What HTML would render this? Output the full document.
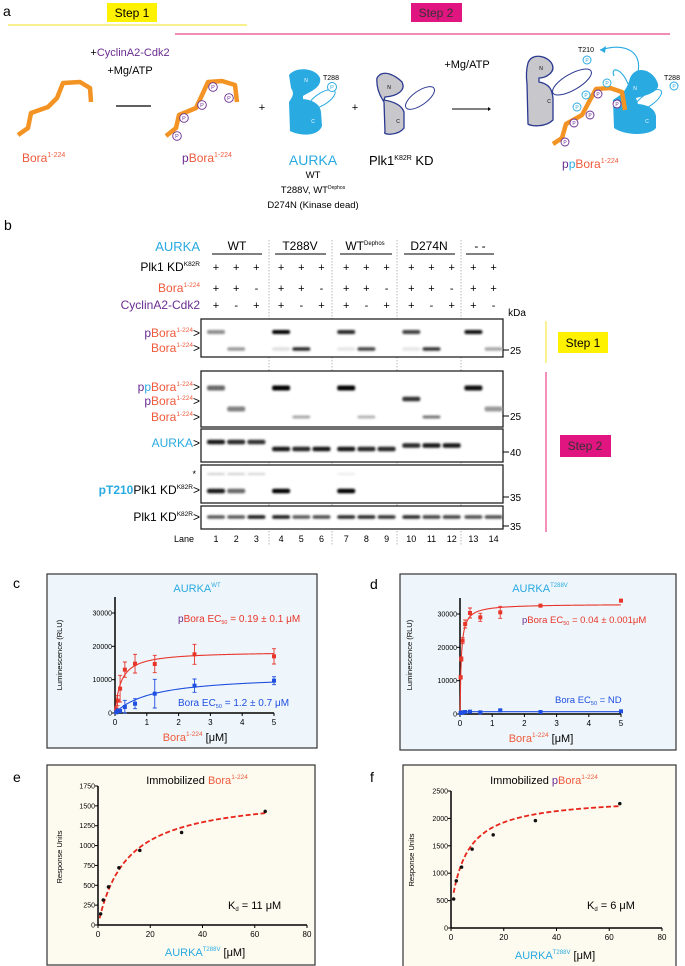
<!DOCTYPE html>
<html><head><meta charset="utf-8"><style>
html,body{margin:0;padding:0;background:#fff;}
svg{display:block;font-family:"Liberation Sans",Arial,sans-serif;}
</style></head><body>
<svg id="fig" width="685" height="966" viewBox="0 0 685 966" xmlns="http://www.w3.org/2000/svg">
<defs>
<filter id="blur" x="-50%" y="-200%" width="200%" height="500%"><feGaussianBlur stdDeviation="1.1"/></filter>
</defs>

<!-- Panel a -->
<g>
<text x="3" y="16" font-size="14">a</text>
<rect x="107" y="3" width="50" height="19" fill="#fff200"/>
<text x="132" y="17" font-size="12" text-anchor="middle">Step 1</text>
<line x1="8" y1="25" x2="247" y2="25" stroke="#f4e84a" stroke-width="1.2"/>
<rect x="411" y="3" width="51" height="19" fill="#e0157f"/>
<text x="436" y="17" font-size="12" text-anchor="middle" fill="#333">Step 2</text>
<line x1="175" y1="34" x2="670" y2="34" stroke="#e8478e" stroke-width="1.2"/>

<text x="130" y="56" font-size="11" text-anchor="middle"><tspan fill="#000">+</tspan><tspan fill="#6a2c91">CyclinA2-Cdk2</tspan></text>
<text x="130" y="74" font-size="11" text-anchor="middle">+Mg/ATP</text>
<line x1="116" y1="106" x2="151" y2="106" stroke="#000" stroke-width="1.2"/>

<path d="M18,135 L28,128 L31,113 L48,107 L57,98 L63,83 L80,82 L90,88 L91,102" fill="none" stroke="#f39324" stroke-width="4.5" stroke-linejoin="round"/>
<text x="22" y="162" font-size="12" fill="#ef5a3c">Bora<tspan font-size="7" dy="-5">1-224</tspan></text>

<path d="M166,136 L176,128 L179,115 L196,108 L203,93 L208,82 L222,81 L235,85 L237,102" fill="none" stroke="#f39324" stroke-width="4.5" stroke-linejoin="round"/>
<g fill="#fff" stroke="#6a2c91" stroke-width="0.9" font-size="5.5">
<circle cx="177" cy="136" r="4.3"/><circle cx="184" cy="118" r="4.3"/><circle cx="202" cy="105" r="4.3"/><circle cx="213" cy="87" r="4.3"/><circle cx="229" cy="98" r="4.3"/>
</g>
<g font-size="5.5" fill="#6a2c91" text-anchor="middle">
<text x="177" y="138">P</text><text x="184" y="120">P</text><text x="202" y="107">P</text><text x="213" y="89">P</text><text x="229" y="100">P</text>
</g>
<text x="182" y="162" font-size="12"><tspan fill="#6a2c91">p</tspan><tspan fill="#ef5a3c">Bora</tspan><tspan fill="#ef5a3c" font-size="7" dy="-5">1-224</tspan></text>

<text x="262" y="111" font-size="11" text-anchor="middle">+</text>
<g>
<ellipse cx="322" cy="99" rx="15" ry="6" transform="rotate(-32 322 99)" fill="#fff" stroke="#29aae1" stroke-width="1"/>
<path d="M289,75 C296,66 316,68 320,78 C322,88 309,92 303,96 L303,99 C313,100 320,104 321,112 L322,126 C318,137 300,136 290,131 L289,102 C292,97 295,94 291,88 Z" fill="#29aae1"/>
<circle cx="332" cy="87" r="4.5" fill="#fff" stroke="#29aae1" stroke-width="1"/>
<text x="332" y="89" font-size="5.5" text-anchor="middle" fill="#29aae1">P</text>
<text x="306" y="82" font-size="5" text-anchor="middle" fill="#fff">N</text>
<text x="313" y="123" font-size="5" text-anchor="middle" fill="#fff">C</text>
<text x="331" y="80" font-size="7" text-anchor="middle">T288</text>
</g>
<text x="313" y="165" font-size="14" fill="#29aae1" text-anchor="middle">AURKA</text>
<text x="313" y="178" font-size="9.5" text-anchor="middle">WT</text>
<text x="313" y="193" font-size="9.5" text-anchor="middle">T288V, WT<tspan font-size="5" dy="-4">Dephos</tspan></text>
<text x="313" y="208" font-size="9.5" text-anchor="middle">D274N (Kinase dead)</text>

<text x="355" y="111" font-size="11" text-anchor="middle">+</text>
<g>
<ellipse cx="420" cy="98" rx="17" ry="7" transform="rotate(-35 420 98)" fill="#fff" stroke="#2b3990" stroke-width="1"/>
<path d="M377,78 C383,68 396,76 402,82 C406,90 398,96 385,97 L384,100 C396,102 402,106 404,112 L404,128 C398,136 382,135 385,132 L384,102 C380,96 376,88 377,78 Z" fill="#c8c8cc" stroke="#2b3990" stroke-width="1.3"/>
<text x="389" y="89" font-size="5" text-anchor="middle">N</text>
<text x="398" y="123" font-size="5" text-anchor="middle">C</text>
</g>
<text x="369" y="165" font-size="13">Plk1<tspan font-size="7" dy="-5">K82R</tspan><tspan dy="5"> KD</tspan></text>
<text x="467" y="68" font-size="11" text-anchor="middle">+Mg/ATP</text>
<line x1="452" y1="109" x2="488" y2="109" stroke="#000" stroke-width="1"/>
<path d="M488,107 L491,109 L488,111 Z" fill="#000"/>

<g>
<ellipse cx="572" cy="82" rx="22" ry="8" transform="rotate(-30 572 82)" fill="#fff" stroke="#2b3990" stroke-width="1"/>
<path d="M528,63 C532,52 548,56 552,64 C556,72 546,78 539,78 L539,82 C550,84 552,90 553,98 L553,120 C545,128 530,126 528,124 L527,84 C526,76 526,70 528,63 Z" fill="#c8c8cc" stroke="#2b3990" stroke-width="1.3"/>
<text x="541" y="70" font-size="5" text-anchor="middle">N</text>
<text x="549" y="103" font-size="5" text-anchor="middle">C</text>
<ellipse cx="648" cy="100" rx="16" ry="6" transform="rotate(-35 648 100)" fill="#fff" stroke="#29aae1" stroke-width="1"/>
<path d="M630,78 C636,64 654,70 658,84 C660,92 645,96 636,98 L638,104 C650,105 655,110 656,116 L656,128 C650,136 625,136 614,128 L613,100 C618,96 626,94 630,78 Z" fill="#29aae1"/>
<text x="635" y="90" font-size="5" text-anchor="middle" fill="#fff">N</text>
<text x="647" y="123" font-size="5" text-anchor="middle" fill="#fff">C</text>
<circle cx="674" cy="86" r="4" fill="#fff" stroke="#29aae1" stroke-width="1"/>
<text x="674" y="88" font-size="5" text-anchor="middle" fill="#29aae1">P</text>
<text x="672" y="80" font-size="7" text-anchor="middle">T288</text>
<circle cx="587" cy="60" r="4" fill="#fff" stroke="#29aae1" stroke-width="1"/>
<text x="587" y="62" font-size="5" text-anchor="middle" fill="#29aae1">P</text>
<text x="586" y="52" font-size="7" text-anchor="middle">T210</text>
<path d="M638,72 C642,52 626,42 600,50" fill="none" stroke="#29aae1" stroke-width="1.1"/>
<path d="M600,50 L606,46 L605,53 Z" fill="#29aae1"/>
<path d="M628,84 C622,68 610,66 614,76" fill="none" stroke="#29aae1" stroke-width="1.1"/>
<path d="M553,144 L562,138 L566,124 L582,115 L590,100 L596,89 L610,88 L622,92 L625,110" fill="none" stroke="#f39324" stroke-width="4.5" stroke-linejoin="round"/>
<g fill="#fff" stroke-width="0.9"><circle cx="565" cy="142" r="4" stroke="#6a2c91"/><circle cx="574" cy="123" r="4" stroke="#6a2c91"/><circle cx="590" cy="115" r="4" stroke="#6a2c91"/><circle cx="598" cy="94" r="4" stroke="#6a2c91"/><circle cx="617" cy="104" r="4" stroke="#6a2c91"/>
<circle cx="577" cy="107" r="4" stroke="#29aae1"/><circle cx="586" cy="95" r="4" stroke="#29aae1"/><circle cx="607" cy="83" r="4" stroke="#29aae1"/></g>
<g font-size="5" text-anchor="middle"><text x="565" y="144" fill="#6a2c91">P</text><text x="574" y="125" fill="#6a2c91">P</text><text x="590" y="117" fill="#6a2c91">P</text><text x="598" y="96" fill="#6a2c91">P</text><text x="617" y="106" fill="#6a2c91">P</text><text x="577" y="109" fill="#29aae1">P</text><text x="586" y="97" fill="#29aae1">P</text><text x="607" y="85" fill="#29aae1">P</text></g>
</g>
<text x="562" y="168" font-size="12"><tspan fill="#6a2c91">p</tspan><tspan fill="#29aae1">p</tspan><tspan fill="#ef5a3c">Bora</tspan><tspan fill="#ef5a3c" font-size="7" dy="-5">1-224</tspan></text>
</g>

<!-- Panel b -->
<g id="panelB">
<text x="4" y="230" font-size="14">b</text>
<text x="200" y="251" font-size="13" fill="#29aae1" text-anchor="end">AURKA</text>
<text x="200" y="271" font-size="12" text-anchor="end">Plk1 KD<tspan font-size="6.5" dy="-5">K82R</tspan></text>
<text x="200" y="292" font-size="12" fill="#ef5a3c" text-anchor="end">Bora<tspan font-size="6.5" dy="-5">1-224</tspan></text>
<text x="200" y="309" font-size="12" fill="#6a2c91" text-anchor="end">CyclinA2-Cdk2</text>
<text x="517" y="316" font-size="10" text-anchor="middle">kDa</text>

<text x="237" y="250" font-size="12" text-anchor="middle">WT</text>
<line x1="212" y1="254" x2="262" y2="254" stroke="#000" stroke-width="1"/>
<text x="300" y="250" font-size="12" text-anchor="middle">T288V</text>
<line x1="275" y1="254" x2="326" y2="254" stroke="#000" stroke-width="1"/>
<text x="365" y="250" font-size="12" text-anchor="middle">WT<tspan font-size="6" dy="-5">Dephos</tspan></text>
<line x1="340" y1="254" x2="392" y2="254" stroke="#000" stroke-width="1"/>
<text x="429" y="250" font-size="12" text-anchor="middle">D274N</text>
<line x1="404" y1="254" x2="455" y2="254" stroke="#000" stroke-width="1"/>
<text x="480" y="250" font-size="12" text-anchor="middle">-    -</text>
<line x1="466" y1="254" x2="494" y2="254" stroke="#000" stroke-width="1"/>

<g stroke="#999" stroke-width="0.7" stroke-dasharray="1.5,1.5">
<line x1="269" y1="240" x2="269" y2="545"/><line x1="332" y1="240" x2="332" y2="545"/><line x1="397" y1="240" x2="397" y2="545"/><line x1="461" y1="240" x2="461" y2="545"/>
</g>

<rect x="201" y="319" width="302" height="38" fill="#fff" stroke="#222" stroke-width="1.3"/>
<rect x="201" y="371" width="302" height="56" fill="#fff" stroke="#222" stroke-width="1.3"/>
<rect x="201" y="429" width="302" height="33" fill="#fff" stroke="#222" stroke-width="1.3"/>
<rect x="201" y="465" width="302" height="38" fill="#fff" stroke="#222" stroke-width="1.3"/>
<rect x="201" y="506" width="302" height="23" fill="#fff" stroke="#222" stroke-width="1.3"/>
<g id="bands"></g>

<text x="200" y="337" font-size="12" text-anchor="end"><tspan fill="#6a2c91">p</tspan><tspan fill="#ef5a3c">Bora</tspan><tspan fill="#ef5a3c" font-size="6.5" dy="-5">1-224</tspan><tspan dy="5">&gt;</tspan></text>
<text x="200" y="352" font-size="12" text-anchor="end"><tspan fill="#ef5a3c">Bora</tspan><tspan fill="#ef5a3c" font-size="6.5" dy="-5">1-224</tspan><tspan dy="5">&gt;</tspan></text>
<text x="200" y="391" font-size="12" text-anchor="end"><tspan fill="#6a2c91">p</tspan><tspan fill="#29aae1">p</tspan><tspan fill="#ef5a3c">Bora</tspan><tspan fill="#ef5a3c" font-size="6.5" dy="-5">1-224</tspan><tspan dy="5">&gt;</tspan></text>
<text x="200" y="405" font-size="12" text-anchor="end"><tspan fill="#6a2c91">p</tspan><tspan fill="#ef5a3c">Bora</tspan><tspan fill="#ef5a3c" font-size="6.5" dy="-5">1-224</tspan><tspan dy="5">&gt;</tspan></text>
<text x="200" y="421" font-size="12" text-anchor="end"><tspan fill="#ef5a3c">Bora</tspan><tspan fill="#ef5a3c" font-size="6.5" dy="-5">1-224</tspan><tspan dy="5">&gt;</tspan></text>
<text x="200" y="447" font-size="12" text-anchor="end"><tspan fill="#29aae1">AURKA</tspan>&gt;</text>
<text x="196" y="477" font-size="9" text-anchor="end">*</text>
<text x="200" y="494" font-size="12" text-anchor="end"><tspan fill="#29aae1" font-weight="bold">pT210</tspan>Plk1 KD<tspan font-size="6.5" dy="-5">K82R</tspan><tspan dy="5">&gt;</tspan></text>
<text x="200" y="521" font-size="12" text-anchor="end">Plk1 KD<tspan font-size="6.5" dy="-5">K82R</tspan><tspan dy="5">&gt;</tspan></text>

<g font-size="10">
<line x1="503" y1="350" x2="509" y2="350" stroke="#000"/><text x="510" y="354">25</text>
<line x1="503" y1="416" x2="509" y2="416" stroke="#000"/><text x="510" y="420">25</text>
<line x1="503" y1="452" x2="509" y2="452" stroke="#000"/><text x="510" y="456">40</text>
<line x1="503" y1="497" x2="509" y2="497" stroke="#000"/><text x="510" y="501">35</text>
<line x1="503" y1="526" x2="509" y2="526" stroke="#000"/><text x="510" y="530">35</text>
</g>
<line x1="546" y1="321" x2="546" y2="363" stroke="#f4e84a" stroke-width="1.2"/>
<rect x="558" y="332" width="50" height="21" fill="#fff200"/>
<text x="583" y="347" font-size="12" text-anchor="middle">Step 1</text>
<line x1="546" y1="372" x2="546" y2="532" stroke="#e8478e" stroke-width="1.2"/>
<rect x="560" y="435" width="51" height="22" fill="#e0157f"/>
<text x="585" y="450" font-size="12" text-anchor="middle" fill="#333">Step 2</text>
<text x="194" y="542" font-size="9" text-anchor="end">Lane</text>
</g>

<g id="charts"></g>
</svg>

<script>
// ---------- Blot data ----------
const lanes = [1,2,3,4,5,6,7,8,9,10,11,12,13,14];
const plk1Row = ['+','+','+','+','+','+','+','+','+','+','+','+','+','+'];
const boraRow = ['+','+','-','+','+','-','+','+','-','+','+','-','+','+'];
const cyclinRow = ['+','-','+','+','-','+','+','-','+','+','-','+','+','-'];
const step1PBora = [0.45,0,0,1,0,0,0.85,0,0,0.75,0,0,0.95,0];
const step1Bora = [0,0.4,0,0.12,0.85,0,0.1,0.75,0,0.1,0.8,0,0,0.35];
const step2PPBora = [0.6,0,0,1,0,0,1,0,0,0,0,0,0.95,0];
const step2PBora = [0,0,0,0,0,0,0,0,0,0.8,0,0,0,0];
const step2Mid = [0,0.5,0,0,0,0,0,0,0,0,0,0,0,0.4];
const step2Bora = [0,0,0,0,0.35,0,0,0.3,0,0,0.55,0,0,0];
const aurkaBand = [0.9,0.85,0.8,0.9,0.85,0.9,0.9,0.85,0.85,0.85,0.9,0.9,0,0];
const aurkaPhos = [1,1,1,0,0,0,0,0,0,0.5,0.5,0.5,0,0];
const pt210Band = [0.9,0.6,0,1,0,0,1,0,0,0,0,0,0,0];
const starBand = [0.2,0.2,0.18,0,0,0,0.08,0,0,0,0,0,0,0];
const plk1Band = [0.65,0.65,0.9,0.9,0.65,0.7,0.85,0.85,0.8,0.85,0.75,0.75,0.7,0.7];

const NS = 'http://www.w3.org/2000/svg';
function mk(parent, tag, attrs){
  const e = document.createElementNS(NS, tag);
  for (const k in attrs) e.setAttribute(k, attrs[k]);
  parent.appendChild(e);
  return e;
}
function laneX(i){ const xs0 = 216, step = 20.2; const grp = Math.floor(i/3); return xs0 + i*step + grp*4.5 - (i>=12 ? 3 : 0); }

const panelB = document.getElementById('panelB');
lanes.forEach(function(l, i){
  const x = laneX(i);
  let t = mk(panelB, 'text', {x:x, y:271, 'font-size':11, 'text-anchor':'middle'});
  t.textContent = plk1Row[i];
  
  
  t = mk(panelB, 'text', {x:x, y:292, 'font-size':11, 'text-anchor':'middle'});
  t.textContent = boraRow[i];
  
  
  t = mk(panelB, 'text', {x:x, y:309, 'font-size':11, 'text-anchor':'middle'});
  t.textContent = cyclinRow[i];
  
  
  t = mk(panelB, 'text', {x:x, y:542, 'font-size':9, 'text-anchor':'middle'});
  t.textContent = String(l);
  
  
});

const bandsG = document.getElementById('bands');
function drawBands(arr, yBase, h, name, yShiftArr, shiftPx){
  arr.forEach(function(v, i){
    if (v <= 0) return;
    const y = yBase - (yShiftArr ? yShiftArr[i]*shiftPx : 0);
    const g = Math.round(255*(1-v));
    const b = mk(bandsG, 'rect', {x:laneX(i)-9, y:y-h/2, width:18, height:h, rx:2, fill:'rgb('+g+','+g+','+g+')', filter:'url(#blur)'});
    
    
  });
}
drawBands(step1PBora, 332, 4, 'band-step1-pbora');
drawBands(step1Bora, 349, 3.5, 'band-step1-bora');
drawBands(step2PPBora, 388, 5, 'band-step2-ppbora');
drawBands(step2PBora, 399, 4.5, 'band-step2-pbora');
drawBands(step2Mid, 409, 5, 'band-step2-mid');
drawBands(step2Bora, 417, 3, 'band-step2-bora');
drawBands(aurkaBand, 449, 4.5, 'band-aurka', aurkaPhos, 7);
drawBands(starBand, 474, 2, 'band-nonspecific');
drawBands(pt210Band, 491, 4.5, 'band-pt210');
drawBands(plk1Band, 517, 3.5, 'band-plk1');

// ---------- Chart data ----------
const cX = [0.04,0.08,0.16,0.31,0.63,1.25,2.5,5];
const cRedY = [1000,3700,7300,13000,14800,14700,17600,17000];
const cRedErr = [800,1500,4000,2300,2800,2600,3000,2300];
const cBlueY = [200,700,600,1800,2800,5800,8200,9700];
const cBlueErr = [300,500,500,2000,1500,4300,2000,1200];
const cRedFit = [18500,0.19];
const cBlueFit = [11500,1.2];
const dX = [0.02,0.04,0.08,0.16,0.31,0.63,1.25,2.5,5];
const dRedY = [11000,16500,22000,27000,30300,29000,30500,32500,34000];
const dRedErr = [500,600,900,1200,1500,1200,1800,400,400];
const dBlueY = [300,400,500,600,700,500,1100,600,800];
const dBlueErr = [200,200,200,200,200,200,300,200,200];
const dRedFit = [33000,0.04];
const dBlueFit = [700,0.01];
const lumTicks = [0,10000,20000,30000];
const lumTickLabels = ['0','10000','20000','30000'];
const concTicks = [0,1,2,3,4,5];
const eX = [1,2,4,8,16,32,64];
const eY = [140,315,480,720,940,1165,1430];
const eFit = [1650,11,0];
const fX = [1,2,4,8,16,32,64];
const fY = [530,860,1110,1440,1700,1960,2270];
const fFit = [2050,6,350];
const eTicks = [0,250,500,750,1000,1250,1500,1750];
const fTicks = [0,500,1000,1500,2000,2500];
const spr = [0,20,40,60,80];

const charts = document.getElementById('charts');

function frame(x, y, w, h, bg, name){
  const r = mk(charts, 'rect', {x:x, y:y, width:w, height:h, fill:bg, stroke:'#333', 'stroke-width':1.2});
  
  
}
function axes(ax){
  const xs = v => ax.x0 + (v - ax.xmin)/(ax.xmax - ax.xmin)*(ax.x1 - ax.x0);
  const ys = v => ax.y0 - v/ax.ymax*(ax.y0 - ax.y1);
  let l = mk(charts, 'line', {x1:ax.x0, y1:ax.y0, x2:ax.x0, y2:ax.ytop, stroke:'#000', 'stroke-width':1.5});
  
  
  l = mk(charts, 'line', {x1:ax.x0, y1:ax.y0, x2:ax.x1, y2:ax.y0, stroke:'#000', 'stroke-width':1.5});
  
  
  ax.yt.forEach(function(v, i){
    const y = ys(v);
    const tk = mk(charts, 'line', {x1:ax.x0-3, y1:y, x2:ax.x0, y2:y, stroke:'#000', 'stroke-width':1});
    
    
    const t = mk(charts, 'text', {x:ax.x0-3, y:y+2.5, 'font-size':7, 'text-anchor':'end'});
    t.textContent = ax.ytl ? ax.ytl[i] : String(v);
    
    
  });
  ax.xt.forEach(function(v){
    const x = xs(v);
    const tk = mk(charts, 'line', {x1:x, y1:ax.y0, x2:x, y2:ax.y0+3, stroke:'#000', 'stroke-width':1});
    
    
    const t = mk(charts, 'text', {x:x, y:ax.y0+12, 'font-size':8, 'text-anchor':'middle'});
    t.textContent = String(v);
    
    
  });
  return {xs:xs, ys:ys};
}
function fitPath(sc, fit, xmin, xmax, color, dashed, name){
  let d = '';
  for (let k = 0; k <= 200; k++){
    const x = xmin + (xmax - xmin)*k/200;
    const y = (fit[2]||0) + fit[0]*x/(fit[1] + x);
    d += (k ? 'L' : 'M') + sc.xs(x).toFixed(2) + ',' + sc.ys(y).toFixed(2);
  }
  const p = mk(charts, 'path', {d:d, fill:'none', stroke:color, 'stroke-width':dashed?1.8:1.1, 'stroke-dasharray':dashed?'5,2.5':'none'});
  
  
}
function points(sc, xs, ys, errs, color, size, name){
  xs.forEach(function(x, i){
    const px = sc.xs(x), py = sc.ys(ys[i]);
    if (errs){
      const e1 = sc.ys(ys[i]+errs[i]), e2 = sc.ys(Math.max(0, ys[i]-errs[i]));
      const eb = mk(charts, 'path', {d:'M'+px+','+e1+'L'+px+','+e2+'M'+(px-2)+','+e1+'L'+(px+2)+','+e1+'M'+(px-2)+','+e2+'L'+(px+2)+','+e2, stroke:color, 'stroke-width':0.9, fill:'none'});
      
      
      const m = mk(charts, 'rect', {x:px-size/2, y:py-size/2, width:size, height:size, fill:color});
      
      
    } else {
      const m = mk(charts, 'circle', {cx:px, cy:py, r:size/2, fill:'#111'});
      
      
    }
  });
}
function label(x, y, html, size, anchor, name, rot){
  const t = mk(charts, 'text', {x:x, y:y, 'font-size':size, 'text-anchor':anchor||'start'});
  if (rot) t.setAttribute('transform', 'rotate(-90 '+x+' '+y+')');
  t.innerHTML = html;
  
  
}

const RED = '#e8352a', BLUE = '#1f4fe0', SKY = '#29aae1', ORG = '#ef5a3c', PUR = '#6a2c91';

// Panel c
label(13, 588, 'c', 14, 'start', 'panel-label-c');
frame(47, 574, 270, 174, '#eef6fb', 'panel-c-frame');
label(197, 592, '<tspan fill="'+SKY+'">AURKA</tspan><tspan fill="'+SKY+'" font-size="6" dy="-5">WT</tspan>', 11, 'middle', 'panel-c-title');
const scC = axes({x0:115, x1:274, xmin:0, xmax:5, y0:713, y1:613, ymax:30000, ytop:597, yt:lumTicks, ytl:lumTickLabels, xt:concTicks});
fitPath(scC, cRedFit, 0, 5, RED, false, 'c-pbora-fit');
fitPath(scC, cBlueFit, 0, 5, BLUE, false, 'c-bora-fit');
points(scC, cX, cRedY, cRedErr, RED, 4, 'c-pbora-point');
points(scC, cX, cBlueY, cBlueErr, BLUE, 4, 'c-bora-point');
label(62, 655, 'Luminescence (RLU)', 7.5, 'middle', 'c-y-axis-title', true);
label(195, 741, '<tspan fill="'+ORG+'">Bora</tspan><tspan fill="'+ORG+'" font-size="6.5" dy="-5">1-224</tspan><tspan dy="5"> [μM]</tspan>', 11, 'middle', 'c-x-axis-title');
label(178, 622, '<tspan fill="'+PUR+'">p</tspan><tspan fill="'+RED+'">Bora EC</tspan><tspan fill="'+RED+'" font-size="5.5" dy="2">50</tspan><tspan fill="'+RED+'" dy="-2"> = 0.19 ± 0.1 μM</tspan>', 10, 'start', 'c-pbora-ec50');
label(178, 706, '<tspan fill="'+BLUE+'">Bora EC</tspan><tspan fill="'+BLUE+'" font-size="5.5" dy="2">50</tspan><tspan fill="'+BLUE+'" dy="-2"> = 1.2 ± 0.7 μM</tspan>', 10, 'start', 'c-bora-ec50');

// Panel d
label(370, 589, 'd', 14, 'start', 'panel-label-d');
frame(400, 574, 276, 176, '#eef6fb', 'panel-d-frame');
label(540, 592, '<tspan fill="'+SKY+'">AURKA</tspan><tspan fill="'+SKY+'" font-size="6" dy="-5">T288V</tspan>', 11, 'middle', 'panel-d-title');
const scD = axes({x0:460, x1:621, xmin:0, xmax:5, y0:714, y1:614, ymax:30000, ytop:598, yt:lumTicks, ytl:lumTickLabels, xt:concTicks});
fitPath(scD, dRedFit, 0, 5, RED, false, 'd-pbora-fit');
fitPath(scD, dBlueFit, 0, 5, BLUE, false, 'd-bora-fit');
points(scD, dX, dRedY, dRedErr, RED, 4, 'd-pbora-point');
points(scD, dX, dBlueY, dBlueErr, BLUE, 4, 'd-bora-point');
label(412, 655, 'Luminescence (RLU)', 7.5, 'middle', 'd-y-axis-title', true);
label(541, 742, '<tspan fill="'+ORG+'">Bora</tspan><tspan fill="'+ORG+'" font-size="6.5" dy="-5">1-224</tspan><tspan dy="5"> [μM]</tspan>', 11, 'middle', 'd-x-axis-title');
label(522, 623, '<tspan fill="'+PUR+'">p</tspan><tspan fill="'+RED+'">Bora EC</tspan><tspan fill="'+RED+'" font-size="5.5" dy="2">50</tspan><tspan fill="'+RED+'" dy="-2"> = 0.04 ± 0.001μM</tspan>', 9.5, 'start', 'd-pbora-ec50');
label(555, 703, '<tspan fill="'+BLUE+'">Bora EC</tspan><tspan fill="'+BLUE+'" font-size="5.5" dy="2">50</tspan><tspan fill="'+BLUE+'" dy="-2"> = ND</tspan>', 9.5, 'start', 'd-bora-ec50');

// Panel e
label(13, 782, 'e', 14, 'start', 'panel-label-e');
frame(47, 765, 268, 200, '#fdfbef', 'panel-e-frame');
label(197, 784, 'Immobilized <tspan fill="'+ORG+'">Bora</tspan><tspan fill="'+ORG+'" font-size="6.5" dy="-5">1-224</tspan>', 11, 'middle', 'panel-e-title');
const scE = axes({x0:98, x1:307, xmin:0, xmax:80, y0:925, y1:786, ymax:1750, ytop:786, yt:eTicks, xt:spr});
fitPath(scE, eFit, 0.6, 64, '#e8251b', true, 'e-fit');
points(scE, eX, eY, null, '#111', 3.5, 'e-point');
label(62, 857, 'Response Units', 7.5, 'middle', 'e-y-axis-title', true);
label(205, 956, '<tspan fill="'+SKY+'">AURKA</tspan><tspan fill="'+SKY+'" font-size="6" dy="-5">T288V</tspan><tspan dy="5"> [μM]</tspan>', 11, 'middle', 'e-x-axis-title');
label(228, 909, 'K<tspan font-size="6" dy="2">d</tspan><tspan dy="-2"> = 11 μM</tspan>', 11, 'start', 'e-kd');

// Panel f
label(370, 782, 'f', 14, 'start', 'panel-label-f');
frame(403, 765, 273, 203, '#fdfbef', 'panel-f-frame');
label(544, 784, 'Immobilized <tspan fill="'+PUR+'">p</tspan><tspan fill="'+ORG+'">Bora</tspan><tspan fill="'+ORG+'" font-size="6.5" dy="-5">1-224</tspan>', 11, 'middle', 'panel-f-title');
const scF = axes({x0:451, x1:662, xmin:0, xmax:80, y0:928, y1:791, ymax:2500, ytop:791, yt:fTicks, xt:spr});
fitPath(scF, fFit, 1, 64, '#e8251b', true, 'f-fit');
points(scF, fX, fY, null, '#111', 3.5, 'f-point');
label(414, 860, 'Response Units', 7.5, 'middle', 'f-y-axis-title', true);
label(555, 959, '<tspan fill="'+SKY+'">AURKA</tspan><tspan fill="'+SKY+'" font-size="6" dy="-5">T288V</tspan><tspan dy="5"> [μM]</tspan>', 11, 'middle', 'f-x-axis-title');
label(587, 909, 'K<tspan font-size="6" dy="2">d</tspan><tspan dy="-2"> = 6 μM</tspan>', 11, 'start', 'f-kd');
</script>
</body></html>
